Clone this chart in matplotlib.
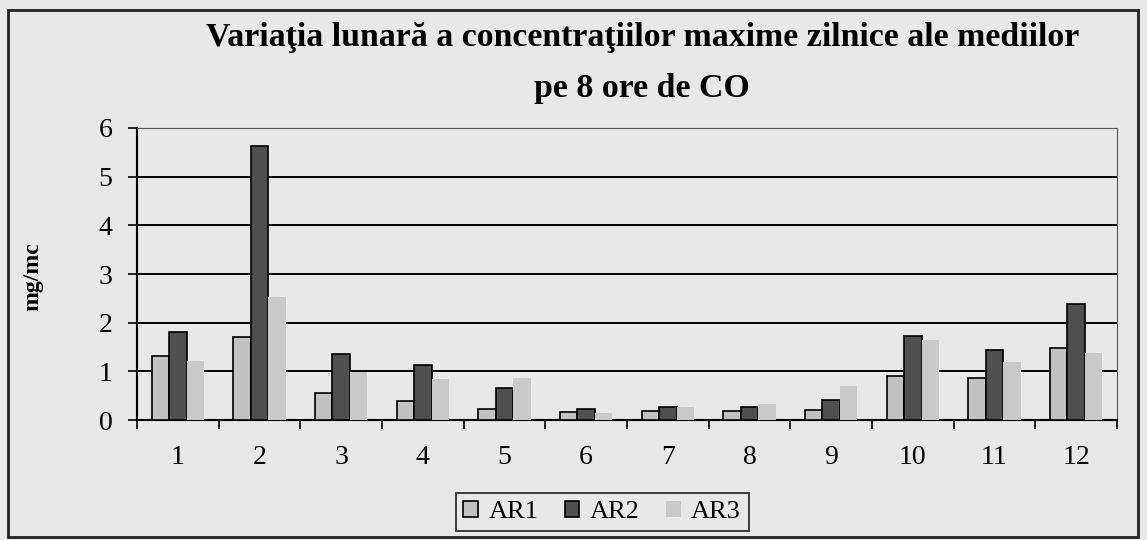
import numpy as np
import matplotlib.pyplot as plt
from matplotlib.patches import Rectangle

plt.rcParams['font.family'] = ['Liberation Serif', 'DejaVu Serif']

months = ['1', '2', '3', '4', '5', '6', '7', '8', '9', '10', '11', '12']
ar1 = [1.32, 1.70, 0.55, 0.39, 0.23, 0.17, 0.18, 0.19, 0.20, 0.90, 0.86, 1.49]
ar2 = [1.82, 5.62, 1.35, 1.14, 0.65, 0.22, 0.27, 0.27, 0.42, 1.72, 1.44, 2.38]
ar3 = [1.21, 2.53, 0.98, 0.84, 0.87, 0.15, 0.27, 0.33, 0.70, 1.65, 1.20, 1.38]

bg = '#e8e8e8'
fig = plt.figure(figsize=(11.47, 5.4), dpi=100, facecolor=bg)
# outer chart border
fig.patches.append(Rectangle((0.007, 0.005), 0.985, 0.976, transform=fig.transFigure,
                             fill=False, edgecolor='#222222', linewidth=2))

ax = fig.add_axes([0.1194, 0.222, 0.8544, 0.541])
ax.set_facecolor(bg)

x = np.arange(1, 13)
w = 0.214
ax.bar(x - w, ar1, w, color='#c2c2c2', edgecolor='black', linewidth=1.2, label='AR1', zorder=3)
ax.bar(x, ar2, w, color='#4f4f4f', edgecolor='black', linewidth=1.2, label='AR2', zorder=3)
ax.bar(x + w, ar3, w, color='#c9c9c9', edgecolor='none', label='AR3', zorder=3)

ax.set_xlim(0.5, 12.5)
ax.set_ylim(0, 6)
ax.set_yticks(range(7))
ax.yaxis.grid(True, color='black', linewidth=1.4, zorder=0)
ax.set_axisbelow(True)

ax.set_xticks(x)
ax.set_xticklabels(months)
ax.set_xticks(np.arange(0.5, 13, 1), minor=True)
ax.tick_params(axis='x', which='major', length=0, pad=18, labelsize=20)
ax.tick_params(axis='x', which='minor', length=6.5, width=1.2, direction='out')
ax.tick_params(axis='y', length=6.5, width=1.2, direction='out', labelsize=20, pad=11)

ax.spines['left'].set_linewidth(1.5)
ax.spines['bottom'].set_linewidth(1.5)
ax.spines['top'].set_linewidth(0.8)
ax.spines['top'].set_color('#555555')
ax.spines['right'].set_linewidth(0.8)
ax.spines['right'].set_color('#555555')

fig.text(0.029, 0.487, 'mg/mc', rotation=90, ha='center', va='center',
         fontsize=17, fontweight='bold')
fig.text(0.56, 0.915, 'Variaţia lunară a concentraţiilor maxime zilnice ale mediilor',
         ha='center', va='baseline', fontsize=24.4, fontweight='bold')
fig.text(0.56, 0.82, 'pe 8 ore de CO',
         ha='center', va='baseline', fontsize=24.4, fontweight='bold')

leg = fig.legend(loc='center', bbox_to_anchor=(0.525, 0.052), ncol=3, fontsize=19,
                 frameon=True, fancybox=False, edgecolor='black', facecolor=bg,
                 handlelength=0.55, handleheight=0.55, handletextpad=0.4,
                 columnspacing=1.0, borderpad=0.3)
leg.get_frame().set_linewidth(1.3)

fig.savefig('out.png', dpi=100, facecolor=bg)
